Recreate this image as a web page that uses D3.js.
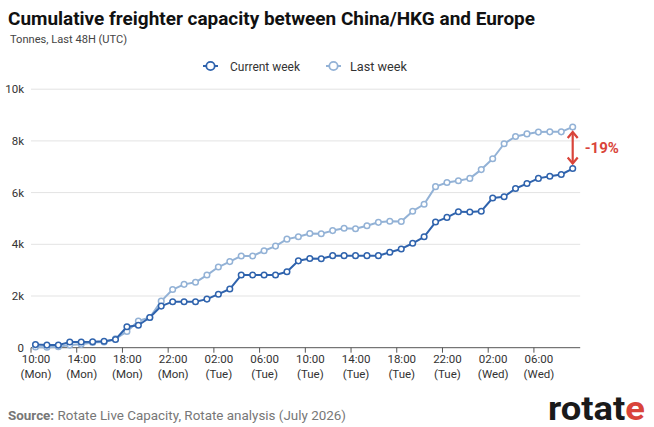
<!DOCTYPE html>
<html><head><meta charset="utf-8">
<script src="https://cdn.jsdelivr.net/npm/d3@7"></script>
<style>
html,body{margin:0;padding:0;background:#fff;}
svg{display:block;font-family:Roboto, "Liberation Sans", sans-serif;}
</style></head>
<body><svg id="c" width="654" height="427"></svg>
<script>
// Hours since 10:00 Mon (UTC), hourly points
const hours = d3.range(0, 48);
const currentWeek = [120,100,100,220,220,230,250,320,810,870,1170,1610,1780,1780,1780,1880,2070,2270,2810,2810,2810,2810,2940,3360,3450,3440,3560,3560,3560,3560,3560,3690,3820,4040,4290,4860,5040,5260,5250,5280,5790,5840,6160,6350,6550,6630,6700,6930];
const lastWeek = [30,20,40,100,130,200,220,340,630,1030,1170,1800,2250,2450,2530,2810,3120,3330,3550,3550,3750,3930,4200,4290,4420,4410,4530,4620,4600,4720,4850,4890,4880,5280,5550,6230,6390,6460,6550,6890,7310,7890,8170,8270,8340,8350,8350,8540];
const tickHours = [0,4,8,12,16,20,24,28,32,36,40,44];
const tickTimes = ["10:00","14:00","18:00","22:00","02:00","06:00","10:00","14:00","18:00","22:00","02:00","06:00"];
const tickDays = ["(Mon)","(Mon)","(Mon)","(Mon)","(Tue)","(Tue)","(Tue)","(Tue)","(Tue)","(Tue)","(Wed)","(Wed)"];
const yTicks = [0,2000,4000,6000,8000,10000];
const seriesNames = ["Current week","Last week"];

const darkC = "#2f63ad", lightC = "#93b2d6", red = "#d9443a";
const svg = d3.select("#c");
const x = d3.scaleLinear().domain([0,47]).range([35.5,572.7]);
const y = d3.scaleLinear().domain([0,10000]).range([347.7,89.2]);

// Title
svg.append("text").attr("x",8).attr("y",25).attr("font-size",18.5).attr("font-weight",700)
  .attr("fill","#111").attr("textLength",527).attr("lengthAdjust","spacingAndGlyphs")
  .text("Cumulative freighter capacity between China/HKG and Europe");
svg.append("text").attr("x",10).attr("y",43).attr("font-size",11.5).attr("fill","#444")
  .attr("textLength",117).attr("lengthAdjust","spacingAndGlyphs")
  .text("Tonnes, Last 48H (UTC)");

// Legend
const leg = [{n:seriesNames[0],c:darkC,x0:203,tx:230,tl:70},{n:seriesNames[1],c:lightC,x0:326,tx:350,tl:57}];
leg.forEach(l=>{
  const g = svg.append("g");
  g.append("line").attr("x1",l.x0).attr("x2",l.x0+15).attr("y1",66).attr("y2",66).attr("stroke",l.c).attr("stroke-width",2);
  g.append("circle").attr("cx",l.x0+7.5).attr("cy",66).attr("r",4.2).attr("fill","#fff").attr("stroke",l.c).attr("stroke-width",1.8);
  g.append("text").attr("x",l.tx).attr("y",70.5).attr("font-size",12.5).attr("fill","#333")
    .attr("textLength",l.tl).attr("lengthAdjust","spacingAndGlyphs").text(l.n);
});

// Grid + y labels
const gx0 = x(0)-4.5, gx1 = x(47)+7.5;
yTicks.forEach(t=>{
  if(t>0) svg.append("line").attr("x1",gx0).attr("x2",gx1).attr("y1",y(t)).attr("y2",y(t)).attr("stroke","#e3e3e3").attr("stroke-width",1);
  svg.append("text").attr("x",24).attr("y",y(t)+4).attr("text-anchor","end").attr("font-size",11.5).attr("fill","#333")
    .text(t===0?"0":(t/1000)+"k");
});

// X axis
svg.append("line").attr("x1",gx0).attr("x2",gx1).attr("y1",y(0)).attr("y2",y(0)).attr("stroke","#555").attr("stroke-width",1);
tickHours.forEach((h,i)=>{
  svg.append("line").attr("x1",x(h)-4.5).attr("x2",x(h)-4.5).attr("y1",y(0)).attr("y2",y(0)+5).attr("stroke","#555");
  svg.append("text").attr("x",x(h)+0.5).attr("y",363).attr("text-anchor","middle").attr("font-size",11.5).attr("fill","#333").text(tickTimes[i]);
  svg.append("text").attr("x",x(h)+0.5).attr("y",378).attr("text-anchor","middle").attr("font-size",11.5).attr("fill","#333").text(tickDays[i]);
});

// Lines
const line = d3.line().x((d,i)=>x(hours[i])).y(d=>y(d));
[[lastWeek,lightC],[currentWeek,darkC]].forEach(([data,c])=>{
  svg.append("path").datum(data).attr("d",line).attr("fill","none").attr("stroke",c).attr("stroke-width",2).attr("stroke-linejoin","round");
  svg.selectAll(null).data(data).enter().append("circle")
    .attr("cx",(d,i)=>x(hours[i])).attr("cy",d=>y(d)).attr("r",2.8)
    .attr("fill","#fff").attr("stroke",c).attr("stroke-width",1.5);
});

// Difference annotation
const lastH = hours[hours.length-1];
const ax = x(lastH);
const yTop = y(lastWeek[lastWeek.length-1])+5, yBot = y(currentWeek[currentWeek.length-1])-5;
svg.append("line").attr("x1",ax).attr("x2",ax).attr("y1",yTop).attr("y2",yBot).attr("stroke",red).attr("stroke-width",2.2);
svg.append("path").attr("d",`M${ax-5},${yTop+6}L${ax},${yTop}L${ax+5},${yTop+6}`).attr("fill","none").attr("stroke",red).attr("stroke-width",2.2);
svg.append("path").attr("d",`M${ax-5},${yBot-6}L${ax},${yBot}L${ax+5},${yBot-6}`).attr("fill","none").attr("stroke",red).attr("stroke-width",2.2);
const pct = Math.round((currentWeek[currentWeek.length-1]-lastWeek[lastWeek.length-1])/lastWeek[lastWeek.length-1]*100);
svg.append("text").attr("x",ax+12).attr("y",(yTop+yBot)/2+5.5).attr("font-size",15).attr("font-weight",700).attr("fill",red).text(pct+"%");

// Source
const src = svg.append("text").attr("x",8).attr("y",420).attr("font-size",13.5).attr("fill","#777")
  .attr("textLength",338).attr("lengthAdjust","spacingAndGlyphs");
src.append("tspan").attr("font-weight",700).text("Source:");
src.append("tspan").text(" Rotate Live Capacity, Rotate analysis (July 2026)");

// Logo
const logo = svg.append("text").attr("x",548).attr("y",420).attr("font-size",33).attr("font-weight",700).attr("fill","#1a1a1a")
  .attr("textLength",97).attr("lengthAdjust","spacingAndGlyphs");
logo.append("tspan").text("rotat");
logo.append("tspan").attr("fill",red).text("e");
</script></body></html>
